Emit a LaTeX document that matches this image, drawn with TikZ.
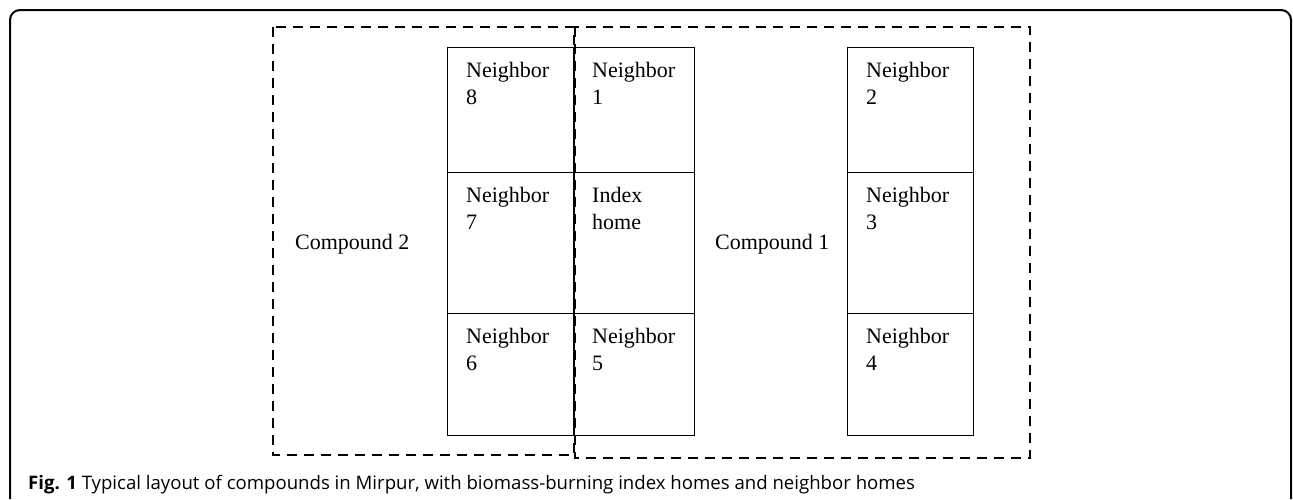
\documentclass[tikz,border=0pt]{standalone}
\usepackage{fontspec}
\setmainfont{Liberation Serif}
\newfontfamily\capfont{Open Sans}
\newcommand\homefont{\fontsize{22}{27}\selectfont}
\begin{document}
\begin{tikzpicture}[x=1pt,y=-1pt,
    home/.style={draw=black,line width=1.2pt,shape=rectangle,inner sep=0pt,anchor=north west},
    hometext/.style={label={[anchor=north west,align=left,inner sep=0pt,font=\homefont,xshift=19pt,yshift=-15pt]north west:#1}},
    compound/.style={draw=black,line width=2pt,dash pattern=on 10pt off 7pt},
    cmplabel/.style={anchor=base west,inner sep=0pt,font=\homefont}]
  \useasboundingbox (0,0) rectangle (1293,499);
  % frame
  \draw[line width=2pt,rounded corners=10pt] (10,499) -- (10,10) -- (1291,10) -- (1291,499);
  % left column
  \node[home,minimum width=126pt,minimum height=125pt,hometext={Neighbor\\8}] (nb8) at (447,47) {};
  \node[home,minimum width=126pt,minimum height=141pt,hometext={Neighbor\\7}] (nb7) at (447,172) {};
  \node[home,minimum width=126pt,minimum height=122pt,hometext={Neighbor\\6}] (nb6) at (447,313) {};
  % middle column
  \node[home,minimum width=121pt,minimum height=125pt,hometext={Neighbor\\1}] (nb1) at (573,47) {};
  \node[home,minimum width=121pt,minimum height=141pt,hometext={Index\\home}] (index) at (573,172) {};
  \node[home,minimum width=121pt,minimum height=122pt,hometext={Neighbor\\5}] (nb5) at (573,313) {};
  % right column
  \node[home,minimum width=126pt,minimum height=125pt,hometext={Neighbor\\2}] (nb2) at (847,47) {};
  \node[home,minimum width=126pt,minimum height=141pt,hometext={Neighbor\\3}] (nb3) at (847,172) {};
  \node[home,minimum width=126pt,minimum height=122pt,hometext={Neighbor\\4}] (nb4) at (847,313) {};
  % compounds
  \draw[compound] (273,27) rectangle (574,455);
  \draw[compound] (575,27) rectangle (1030,458);
  \node[cmplabel] (cmp2) at (295,249) {Compound 2};
  \node[cmplabel] (cmp1) at (715,249) {Compound 1};
  % caption
  \node[anchor=base west,inner sep=0pt,font=\capfont\fontsize{18.6}{22}\selectfont] (caption) at (28,489)
    {\textbf{Fig. 1} Typical layout of compounds in Mirpur, with biomass-burning index homes and neighbor homes};
\end{tikzpicture}
\end{document}
